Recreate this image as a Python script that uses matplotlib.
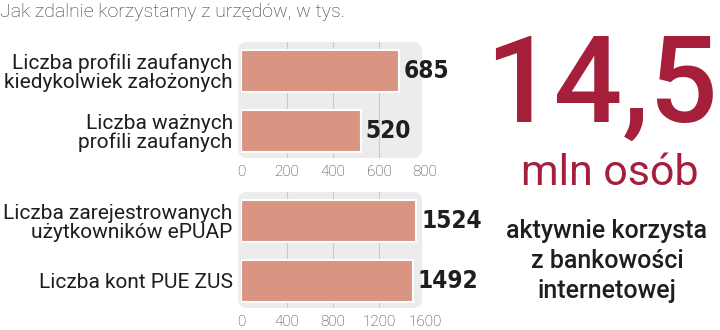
import matplotlib
matplotlib.use("Agg")
import matplotlib.pyplot as plt
from matplotlib.patches import FancyBboxPatch

plt.rcParams['font.family'] = ['Roboto', 'DejaVu Sans']

# dane (w tys.)
labels_top = ["Liczba profili zaufanych\nkiedykolwiek założonych", "Liczba ważnych\nprofili zaufanych"]
values_top = [685, 520]
ticks_top = [0, 200, 400, 600, 800]

labels_bottom = ["Liczba zarejestrowanych\nużytkowników ePUAP", "Liczba kont PUE ZUS"]
values_bottom = [1524, 1492]
ticks_bottom = [0, 400, 800, 1200, 1600]

bar_color = "#da9582"
panel_color = "#ececec"
red = "#a51f3b"
text_color = "#1e1e1e"

fig = plt.figure(figsize=(7.2, 3.3), dpi=100)
fig.patch.set_facecolor("white")

fig.text(0.0, 0.99, "Jak zdalnie korzystamy z urzędów, w tys.", ha="left", va="top",
         fontsize=14, fontweight="light", color="#333333")


def panel(rect, labels, values, ticks):
    ax = fig.add_axes(rect)
    ax.set_facecolor("none")
    # szare tło panelu
    bg = FancyBboxPatch((-0.016, 0), 1.0, 1, boxstyle="round,pad=0,rounding_size=0.05",
                        transform=ax.transAxes, facecolor=panel_color, edgecolor="none",
                        clip_on=False, zorder=0, mutation_aspect=1.6)
    ax.add_patch(bg)
    y = list(range(len(values)))
    ax.barh(y, values, height=0.7, color=bar_color, edgecolor="white", linewidth=1.5, zorder=3)
    for yi, v in zip(y, values):
        ax.text(v + ticks[-1] * 0.027, yi, f"{v}", va="center", ha="left", fontsize=17.5,
                fontweight="bold", family="DejaVu Sans", fontstretch="condensed",
                color=text_color, zorder=4)
    ax.set_xlim(0, ticks[-1])
    ax.set_ylim(1.45, -0.483)
    ax.set_yticks(y)
    ax.set_yticklabels(labels, fontsize=15, color=text_color, linespacing=1.0)
    ax.set_xticks(ticks)
    ax.set_xticklabels([str(t) for t in ticks], fontsize=11, fontweight="light", color="#333333")
    ax.tick_params(length=0, axis="y", pad=6)
    ax.tick_params(length=0, axis="x", pad=5)
    for t in ticks[1:-1]:
        ax.axvline(t, color="#c9c9c9", linewidth=0.8, zorder=1)
    for s in ax.spines.values():
        s.set_visible(False)
    return ax


panel([241 / 720, 1 - 158 / 330, 184 / 720, 116 / 330], labels_top, values_top, ticks_top)
panel([241 / 720, 1 - 308 / 330, 184 / 720, 116 / 330], labels_bottom, values_bottom, ticks_bottom)

# prawa strona
fig.text(718 / 720, 1 - 122 / 330, "14,5", ha="right", va="baseline", fontsize=87,
         color=red, fontweight="medium")
fig.text(610 / 720, 1 - 185 / 330, "mln osób", ha="center", va="baseline", fontsize=31,
         color=red, fontweight="normal")
fig.text(607 / 720, 1 - 298 / 330, "aktywnie korzysta\nz bankowości\ninternetowej", ha="center",
         va="baseline", fontsize=18, fontweight="medium", color=text_color, linespacing=1.32)

fig.savefig("out.png", dpi=100)
